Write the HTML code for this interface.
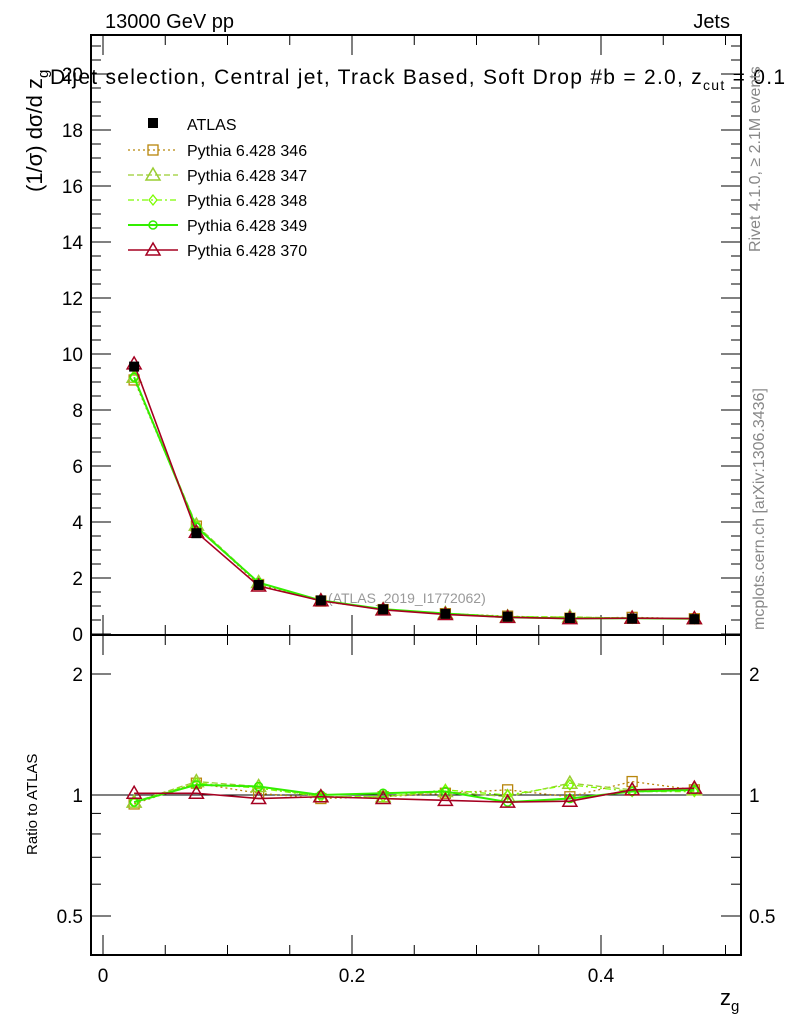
<!DOCTYPE html>
<html><head><meta charset="utf-8"><style>
body{margin:0;background:#fff;font-family:"Liberation Sans",sans-serif}
svg text{font-family:"Liberation Sans",sans-serif}
</style></head><body>
<svg id="c" width="786" height="1024" xmlns="http://www.w3.org/2000/svg">
<text x="105" y="28" font-size="20">13000 GeV pp</text>
<text x="730" y="28" font-size="20" text-anchor="end">Jets</text>
<text x="50" y="84" font-size="21" textLength="735">Dijet selection, Central jet, Track Based, Soft Drop #b = 2.0, z<tspan font-size="14" dy="6">cut</tspan><tspan dy="-6"> = 0.1</tspan></text>
<text transform="translate(760,252) rotate(-90)" font-size="16" fill="#888">Rivet 4.1.0, ≥ 2.1M events</text>
<text transform="translate(764,630) rotate(-90)" font-size="16" fill="#888">mcplots.cern.ch [arXiv:1306.3436]</text>
<text transform="translate(42,192) rotate(-90)" font-size="22">(1/σ) dσ/d z<tspan font-size="15" dy="6">g</tspan></text>
<text transform="translate(37,855) rotate(-90)" font-size="15">Ratio to ATLAS</text>
<text x="720" y="1005" font-size="22">z<tspan font-size="15" dy="6">g</tspan></text>
<text x="328" y="603" font-size="14" fill="#999">(ATLAS_2019_I1772062)</text>
<g id="g"></g>
</svg>
<script>
const xCenters=[0.025,0.075,0.125,0.175,0.225,0.275,0.325,0.375,0.425,0.475];
const atlas=[9.55,3.6,1.75,1.2,0.88,0.72,0.62,0.57,0.55,0.53];
const r346=[0.95,1.07,1.01,0.98,0.99,1.01,1.03,0.99,1.08,1.03];
const r347=[0.96,1.08,1.05,0.99,0.99,1.02,0.99,1.07,1.03,1.03];
const r348=[0.96,1.07,1.04,0.99,0.99,1.03,1.00,1.06,1.02,1.02];
const r349=[0.96,1.06,1.05,1.00,1.01,1.02,0.96,0.98,1.02,1.03];
const r370=[1.01,1.01,0.98,0.99,0.98,0.97,0.96,0.965,1.03,1.04];
const yTicks=[0,2,4,6,8,10,12,14,16,18,20];
const xTicks=[0,0.2,0.4];
const rTicks=[0.5,1,2];
const NS="http://www.w3.org/2000/svg";
const g=document.getElementById('g');
const L=91,R=741,T=35,M=635,B=955;
const X=v=>103+v*1245;
const Y=v=>634-v*28;
const RY=v=>795-402*Math.log10(v);
function el(t,a,name){const e=document.createElementNS(NS,t);for(const k in a)e.setAttribute(k,a[k]);


g.appendChild(e);return e;}
el('rect',{x:L,y:T,width:R-L,height:M-T,fill:'none',stroke:'#000','stroke-width':2},'main-frame');
el('rect',{x:L,y:M,width:R-L,height:B-M,fill:'none',stroke:'#000','stroke-width':2},'ratio-frame');
for(let v=0;v<=21.4;v+=0.5){const maj=yTicks.includes(v);const l=maj?20:10;
el('line',{x1:L,x2:L+l,y1:Y(v),y2:Y(v),stroke:'#000'},'y-tick');el('line',{x1:R,x2:R-l,y1:Y(v),y2:Y(v),stroke:'#000'},'y-tick-right');}
yTicks.forEach(v=>{const t=el('text',{x:L-8,y:Y(v)+7,'font-size':19,'text-anchor':'end'},'y-tick-label');t.textContent=v;});
for(let i=0;i<=10;i++){const v=i*0.05;const maj=i%4==0;const l=maj?20:10;
[[M,-1],[B,-1],[T,1],[M,1]].forEach(([y0,d])=>el('line',{x1:X(v),x2:X(v),y1:y0,y2:y0+d*l,stroke:'#000'},'x-tick'));}
xTicks.forEach(v=>{const t=el('text',{x:X(v),y:982,'font-size':19,'text-anchor':'middle'},'x-tick-label');t.textContent=v;});
[0.4,0.5,0.6,0.7,0.8,0.9,1,2].forEach(v=>{const maj=rTicks.includes(v);const l=maj?20:10;
el('line',{x1:L,x2:L+l,y1:RY(v),y2:RY(v),stroke:'#000'},'ratio-tick');el('line',{x1:R,x2:R-l,y1:RY(v),y2:RY(v),stroke:'#000'},'ratio-tick-right');});
rTicks.forEach(v=>{const t=el('text',{x:L-8,y:RY(v)+7,'font-size':19,'text-anchor':'end'},'ratio-tick-label');t.textContent=v;
const t2=el('text',{x:R+8,y:RY(v)+7,'font-size':19},'ratio-tick-label-right');t2.textContent=v;});
el('line',{x1:L,x2:R,y1:RY(1),y2:RY(1),stroke:'#000'},'ratio-unity-line');
const series=[
 {n:'346',r:r346,c:'#b8860b',d:'2,3',m:'sq',w:1.3},
 {n:'347',r:r347,c:'#9acd32',d:'6,3',m:'tri',w:1.3},
 {n:'348',r:r348,c:'#7cfc00',d:'6,3,2,3',m:'dia',w:1.3},
 {n:'349',r:r349,c:'#33ee00',d:'',m:'cross',w:2},
 {n:'370',r:r370,c:'#a50021',d:'',m:'tri',w:1.6}];
function marker(m,x,y,c,name){
 if(m=='sq')el('rect',{x:x-5,y:y-5,width:10,height:10,fill:'none',stroke:c,'stroke-width':1.3},name);
 else if(m=='tri')el('polygon',{points:`${x},${y-7} ${x-7},${y+5} ${x+7},${y+5}`,fill:'none',stroke:c,'stroke-width':1.5},name);
 else if(m=='dia')el('polygon',{points:`${x},${y-5} ${x-4},${y} ${x},${y+5} ${x+4},${y}`,fill:'none',stroke:c,'stroke-width':1.3},name);
 else el('circle',{cx:x,cy:y,r:4,fill:'none',stroke:c,'stroke-width':1.5},name);}
series.forEach(s=>{
 const pm=xCenters.map((x,i)=>X(x)+','+Y(atlas[i]*s.r[i])).join(' ');
 el('polyline',{points:pm,fill:'none',stroke:s.c,'stroke-width':s.w,'stroke-dasharray':s.d},'line-'+s.n);
 const pr=xCenters.map((x,i)=>X(x)+','+RY(s.r[i])).join(' ');
 el('polyline',{points:pr,fill:'none',stroke:s.c,'stroke-width':s.w,'stroke-dasharray':s.d},'ratio-line-'+s.n);
 xCenters.forEach((x,i)=>{marker(s.m,X(x),Y(atlas[i]*s.r[i]),s.c,'marker-'+s.n);marker(s.m,X(x),RY(s.r[i]),s.c,'ratio-marker-'+s.n);});
});
xCenters.forEach((x,i)=>el('rect',{x:X(x)-5,y:Y(atlas[i])-5,width:10,height:10,fill:'#000'},'atlas-point'));
el('rect',{x:148,y:118,width:10,height:10,fill:'#000'},'legend-atlas-marker');
let t=el('text',{x:187,y:130,'font-size':16},'legend-atlas-label');t.textContent='ATLAS';
series.forEach((s,i)=>{const y=150+i*25;
 el('line',{x1:128,x2:178,y1:y,y2:y,stroke:s.c,'stroke-width':s.w,'stroke-dasharray':s.d},'legend-line-'+s.n);
 marker(s.m,153,y,s.c,'legend-marker-'+s.n);
 const tt=el('text',{x:187,y:y+6,'font-size':16},'legend-label-'+s.n);tt.textContent='Pythia 6.428 '+s.n;});
</script>
</body></html>
